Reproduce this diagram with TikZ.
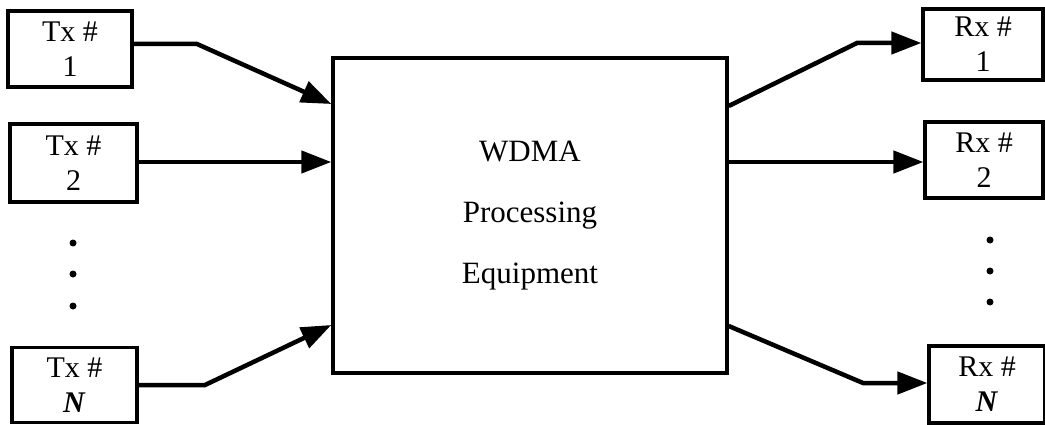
\documentclass[tikz,border=0pt]{standalone}
\usepackage{fontspec}
\setmainfont{Liberation Serif}
\usetikzlibrary{arrows.meta}
\begin{document}
\begin{tikzpicture}[x=1pt,y=-1pt,
  endbox/.style={draw, line width=3.2pt, inner sep=0pt, align=center,
    font=\fontsize{30}{35}\selectfont},
  bigbox/.style={draw, line width=3.4pt, inner sep=0pt, align=center,
    font=\fontsize{31}{61}\selectfont},
  link/.style={line width=4.5pt, line join=miter},
  arr/.style={link, -{Triangle[length=30pt,width=22pt]}},
  vdot/.style={circle, fill, inner sep=0pt, minimum size=7pt}]
\useasboundingbox (0,0) rectangle (1045,425);
% transmitter boxes
\node[endbox, minimum width=124pt, minimum height=76pt] (tx1) at (70,49) {Tx \#\\1};
\node[endbox, minimum width=127pt, minimum height=78pt] (tx2) at (73.5,163) {Tx \#\\2};
\node[endbox, minimum width=125pt, minimum height=75pt] (txn) at (74.5,385) {Tx \#\\\textbf{\textit{N}}};
% receiver boxes
\node[endbox, minimum width=120pt, minimum height=71pt] (rx1) at (983,44.5) {Rx \#\\1};
\node[endbox, minimum width=118pt, minimum height=76pt] (rx2) at (984,160) {Rx \#\\2};
\node[endbox, minimum width=116pt, minimum height=77pt] (rxn) at (987,384.5) {Rx \#\\\textbf{\textit{N}}};
% main box
\node[bigbox, minimum width=394pt, minimum height=315pt] (main) at (530,215.5)
  {WDMA\\Processing\\Equipment};
% dots
\node[vdot] (dl1) at (73,243) {};
\node[vdot] (dl2) at (73,274) {};
\node[vdot] (dl3) at (73,306) {};
\node[vdot] (dr1) at (990,240) {};
\node[vdot] (dr2) at (990,271) {};
\node[vdot] (dr3) at (990,302) {};
% bend points
\coordinate (b1) at (197,44);
\coordinate (bn) at (205,385);
\coordinate (c1) at (857,43);
\coordinate (cn) at (863,383);
\coordinate (in1) at (331,104);
\coordinate (inn) at (331,325);
\coordinate (out1) at (729,106);
\coordinate (outn) at (729,326);
% connectors
\draw[arr] (tx1.east |- b1) -- (b1) -- (main.west |- in1);
\draw[arr] (tx2.east |- 0,162) -- (main.west |- 0,162);
\draw[arr] (txn.east |- bn) -- (bn) -- (main.west |- inn);
\draw[arr] (main.east |- out1) -- (c1) -- (rx1.west |- c1);
\draw[arr] (main.east |- 0,162) -- (rx2.west |- 0,162);
\draw[arr] (main.east |- outn) -- (cn) -- (rxn.west |- cn);
\end{tikzpicture}
\end{document}
